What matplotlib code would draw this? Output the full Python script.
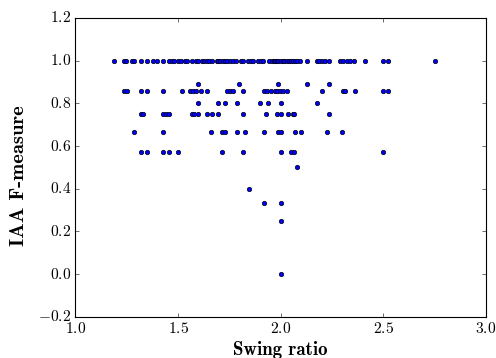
import matplotlib
matplotlib.use("Agg")
import matplotlib.pyplot as plt
import numpy as np

# swing ratios grouped by the IAA F-measure value they score
f_levels = [1.0, 8 / 9, 6 / 7, 0.8, 0.75, 2 / 3, 4 / 7, 0.5, 0.4, 1 / 3, 0.25, 0.0]

ratios_100 = [1.189, 1.237, 1.247, 1.274, 1.286, 1.318, 1.347, 1.380, 1.396, 1.428,
              1.458, 1.469, 1.480, 1.501, 1.513, 1.534, 1.545, 1.567, 1.588, 1.599,
              1.615, 1.627, 1.640, 1.651, 1.664, 1.688, 1.696, 1.704, 1.718, 1.729,
              1.740, 1.753, 1.769, 1.782, 1.805, 1.815, 1.842, 1.854, 1.867, 1.891,
              1.903, 1.915, 1.945, 1.956, 1.965, 1.972, 1.983, 1.988, 2.000, 2.010,
              2.016, 2.029, 2.040, 2.049, 2.061, 2.070, 2.078, 2.094, 2.130, 2.175,
              2.188, 2.200, 2.216, 2.237, 2.289, 2.302, 2.321, 2.337, 2.357, 2.410,
              2.500, 2.524, 2.750]
ratios_089 = [1.599, 1.798, 1.988, 2.130, 2.237]
ratios_086 = [1.237, 1.250, 1.318, 1.347, 1.428, 1.518, 1.558, 1.571, 1.588, 1.611,
              1.640, 1.740, 1.753, 1.769, 1.818, 1.919, 1.932, 1.951, 1.972, 1.983,
              1.997, 2.010, 2.029, 2.200, 2.302, 2.312, 2.360, 2.500, 2.524]
ratios_080 = [1.599, 1.696, 1.729, 1.788, 1.899, 1.940, 2.000, 2.178]
ratios_075 = [1.318, 1.331, 1.428, 1.442, 1.458, 1.567, 1.578, 1.599, 1.640, 1.664,
              1.696, 1.818, 1.929, 1.981, 2.000, 2.037, 2.058, 2.065, 2.237]
ratios_067 = [1.286, 1.428, 1.659, 1.713, 1.729, 1.788, 1.828, 1.919, 1.988, 2.000,
              2.070, 2.097, 2.227, 2.299]
ratios_057 = [1.318, 1.347, 1.428, 1.458, 1.501, 1.713, 1.818, 2.000, 2.049, 2.065,
              2.500]
ratios_050 = [2.078]
ratios_040 = [1.847]
ratios_033 = [1.919, 2.000]
ratios_025 = [2.000]
ratios_000 = [2.000]

rows = [ratios_100, ratios_089, ratios_086, ratios_080, ratios_075, ratios_067,
        ratios_057, ratios_050, ratios_040, ratios_033, ratios_025, ratios_000]

swing = np.concatenate([np.array(r) for r in rows])
fmeasure = np.concatenate([np.full(len(r), f) for r, f in zip(rows, f_levels)])

######################################
# plot
######################################
plt.style.use("classic")
plt.rcParams["font.family"] = "serif"
plt.rcParams["font.serif"] = ["cmr10"]
plt.rcParams["mathtext.fontset"] = "cm"
plt.rcParams["axes.formatter.use_mathtext"] = True
plt.rcParams["font.size"] = 14

fig = plt.figure(figsize=(6.2, 4.475), dpi=80)
ax = fig.add_axes([0.152, 0.115, 0.828, 0.835])

ax.scatter(swing, fmeasure, s=16, c="b", edgecolors="k", linewidths=0.6)

ax.set_xlim(1.0, 3.0)
ax.set_ylim(-0.2, 1.2)
ax.set_xticks([1.0, 1.5, 2.0, 2.5, 3.0])
ax.set_yticks(np.arange(-0.2, 1.21, 0.2))

ax.set_xlabel("Swing ratio", family="cmb10", fontsize=17, labelpad=4)
ax.set_ylabel("IAA F-measure", family="cmb10", fontsize=18.5, labelpad=9)
ax.yaxis.label.set_y(0.473)

fig.savefig("out.png", dpi=80, facecolor="white")
